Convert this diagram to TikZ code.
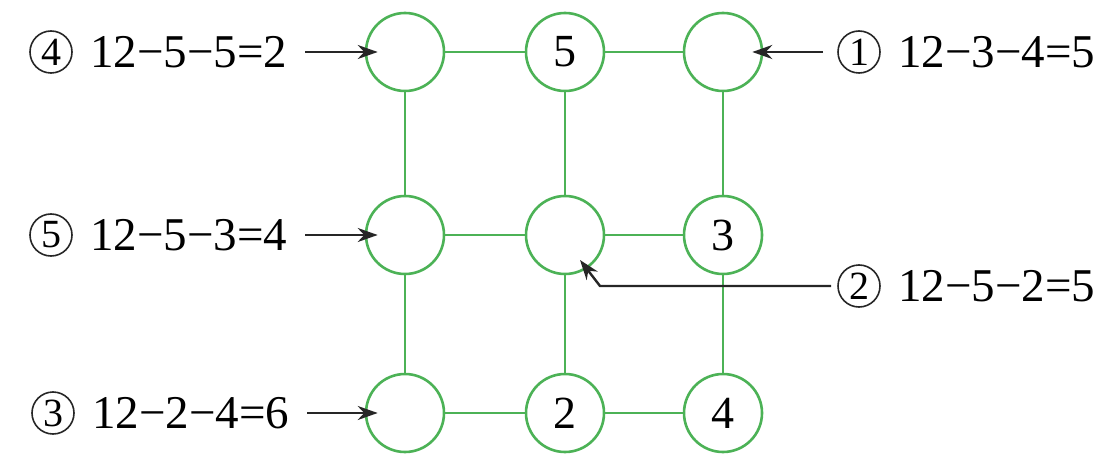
\documentclass[tikz,border=0pt]{standalone}
\usepackage{fontspec}
\setmainfont{Liberation Serif}
\newfontfamily\eqfont{Liberation Serif}
\usetikzlibrary{arrows.meta}
\definecolor{gridgreen}{RGB}{76,178,86}
\tikzset{
  cell/.style={circle, draw=gridgreen, line width=2.6pt, minimum size=78pt, inner sep=0pt, font=\eqfont\fontsize{46}{50}\selectfont},
  link/.style={draw=gridgreen, line width=2.6pt},
  cnum/.style={circle, draw=black!85, line width=1.6pt, minimum size=42pt, inner sep=0pt, font=\eqfont\fontsize{40}{44}\selectfont},
  eqn/.style={anchor=west, inner sep=0pt, font=\eqfont\fontsize{47}{50}\selectfont},
  arr/.style={draw=black!85, line width=2.4pt, -{Stealth[length=20pt,width=14pt]}},
}
\begin{document}
\begin{tikzpicture}[x=1pt,y=1pt]
\useasboundingbox (0,0) rectangle (1118,464);
% circles
\node[cell] (c11) at (405,412) {};
\node[cell] (c12) at (565,412) {5};
\node[cell] (c13) at (723,412) {};
\node[cell] (c21) at (405,229) {};
\node[cell] (c22) at (565,229) {};
\node[cell] (c23) at (723,229) {3};
\node[cell] (c31) at (405,51) {};
\node[cell] (c32) at (565,51) {2};
\node[cell] (c33) at (723,51) {4};
% grid links
\foreach \a/\b in {c11/c12,c12/c13,c21/c22,c22/c23,c31/c32,c32/c33}
  \draw[link] (\a.east) -- (\b.west);
\foreach \a/\b in {c11/c21,c21/c31,c12/c22,c22/c32,c13/c23,c23/c33}
  \draw[link] (\a.south) -- (\b.north);
% left labels
\node[cnum] (n4) at (51,412) {4};
\node[eqn] (t4) at (90,412) {12−5−5=2};
\node[cnum] (n5) at (51,229) {5};
\node[eqn] (t5) at (90,229) {12−5−3=4};
\node[cnum] (n3) at (53,51) {3};
\node[eqn] (t3) at (92,51) {12−2−4=6};
% right labels
\node[cnum] (n1) at (859,412) {1};
\node[eqn] (t1) at (898,412) {12−3−4=5};
\node[cnum] (n2) at (859,178) {2};
\node[eqn] (t2) at (898,178) {12−5−2=5};
% arrows
\draw[arr] ([xshift=18pt]t4.east) -- ([xshift=13pt]c11.west);
\draw[arr] ([xshift=18pt]t5.east) -- ([xshift=13pt]c21.west);
\draw[arr] ([xshift=18pt]t3.east) -- ([xshift=13pt]c31.west);
\draw[arr] ([xshift=-14pt]n1.west) -- ([xshift=-11pt]c13.east);
\coordinate (bend) at (600,178);
\draw[arr] ([xshift=-6pt]n2.west) -- (bend) -- ([shift={(15pt,-25pt)}]c22.center);
\end{tikzpicture}
\end{document}
